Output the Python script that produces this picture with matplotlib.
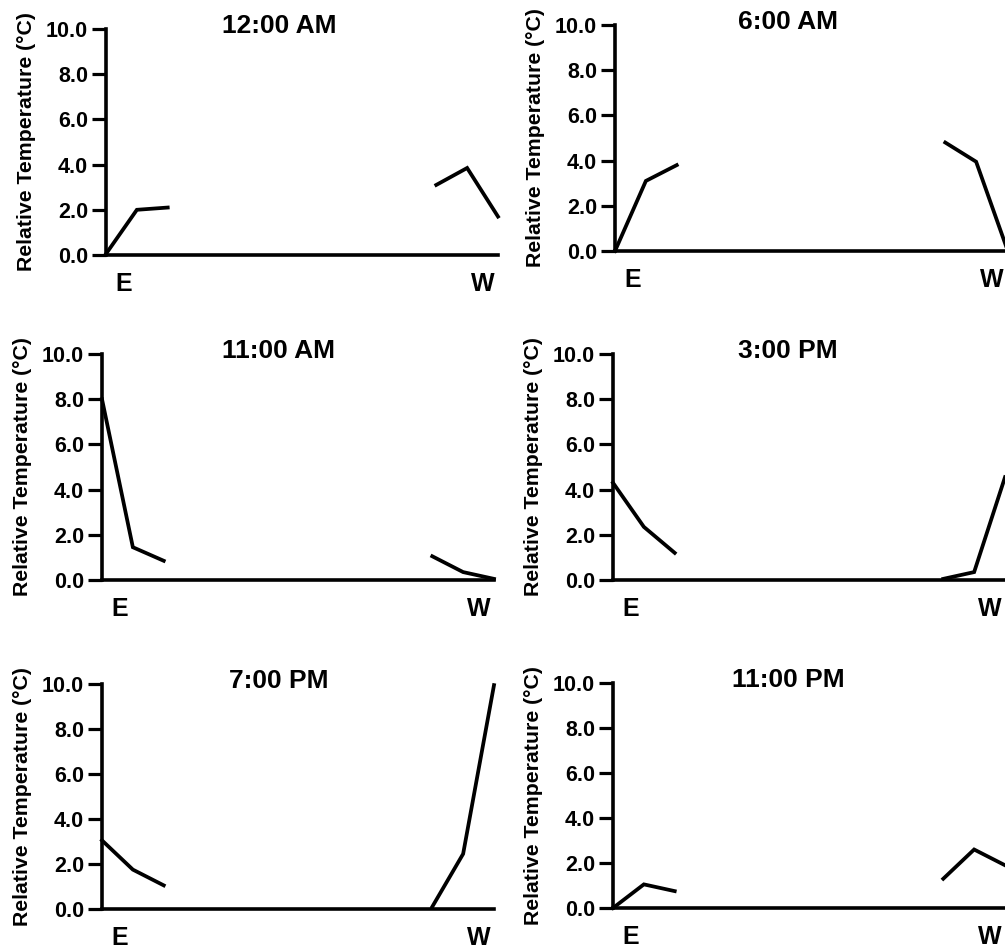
import matplotlib
matplotlib.use("Agg")
import matplotlib.pyplot as plt

plt.rcParams['font.family'] = ['Liberation Sans', 'DejaVu Sans']
plt.rcParams['font.weight'] = 'bold'

titles = ["12:00 AM", "6:00 AM", "11:00 AM", "3:00 PM", "7:00 PM", "11:00 PM"]
east_x = [0, 1, 2]
west_x = [10.7, 11.7, 12.7]
east_vals = [
    [0.05, 2.0, 2.1],
    [0.0, 3.1, 3.8],
    [8.0, 1.45, 0.85],
    [4.3, 2.35, 1.2],
    [3.05, 1.75, 1.05],
    [0.0, 1.05, 0.75],
]
west_vals = [
    [3.1, 3.85, 1.7],
    [4.8, 3.95, 0.1],
    [1.05, 0.35, 0.05],
    [0.05, 0.35, 4.55],
    [0.1, 2.45, 9.95],
    [1.3, 2.6, 1.9],
]
yticks = [0.0, 2.0, 4.0, 6.0, 8.0, 10.0]
ytick_labels = ["0.0", "2.0", "4.0", "6.0", "8.0", "10.0"]
dir_pos = [0.58, 12.2]
dir_labels = ["E", "W"]
ylabel = "Relative Temperature (\u00b0C)"

W, H = 1005, 950
fig = plt.figure(figsize=(W / 100, H / 100), dpi=100)

# pixel boxes: (left, top, bottom) ; width 392 px
boxes = [
    (106, 29, 255),
    (615, 25, 251),
    (102, 354, 580),
    (613, 354, 580),
    (102, 684, 909),
    (613, 683, 908),
]
title_px = [279, 788, 279, 788, 279, 788]

for i, (l, t, b) in enumerate(boxes):
    ax = fig.add_axes([l / W, 1 - b / H, 392 / W, (b - t) / H])
    ax.plot(east_x, east_vals[i], color='black', lw=2.7, solid_joinstyle='miter', clip_on=False)
    ax.plot(west_x, west_vals[i], color='black', lw=2.7, solid_joinstyle='miter', clip_on=False)
    ax.set_xlim(0, 12.7)
    ax.set_ylim(0, 10)
    for s in ['top', 'right']:
        ax.spines[s].set_visible(False)
    for s in ['left', 'bottom']:
        ax.spines[s].set_linewidth(2.6)
    ax.set_yticks(yticks)
    ax.set_yticklabels(ytick_labels, fontsize=15.5, fontweight='bold')
    ax.tick_params(axis='y', direction='out', length=10, width=2.3, pad=3)
    ax.set_xticks(dir_pos)
    ax.set_xticklabels(dir_labels, fontsize=18, fontweight='bold')
    ax.tick_params(axis='x', length=0, pad=12)
    ax.set_ylabel(ylabel, fontsize=15.3, fontweight='bold', labelpad=7)
    tx = (title_px[i] - l) / 392
    ax.text(tx, 1 - 4 / (b - t), titles[i], transform=ax.transAxes,
            ha='center', va='baseline', fontsize=19, fontweight='bold')

fig.savefig("out.png", dpi=100)
